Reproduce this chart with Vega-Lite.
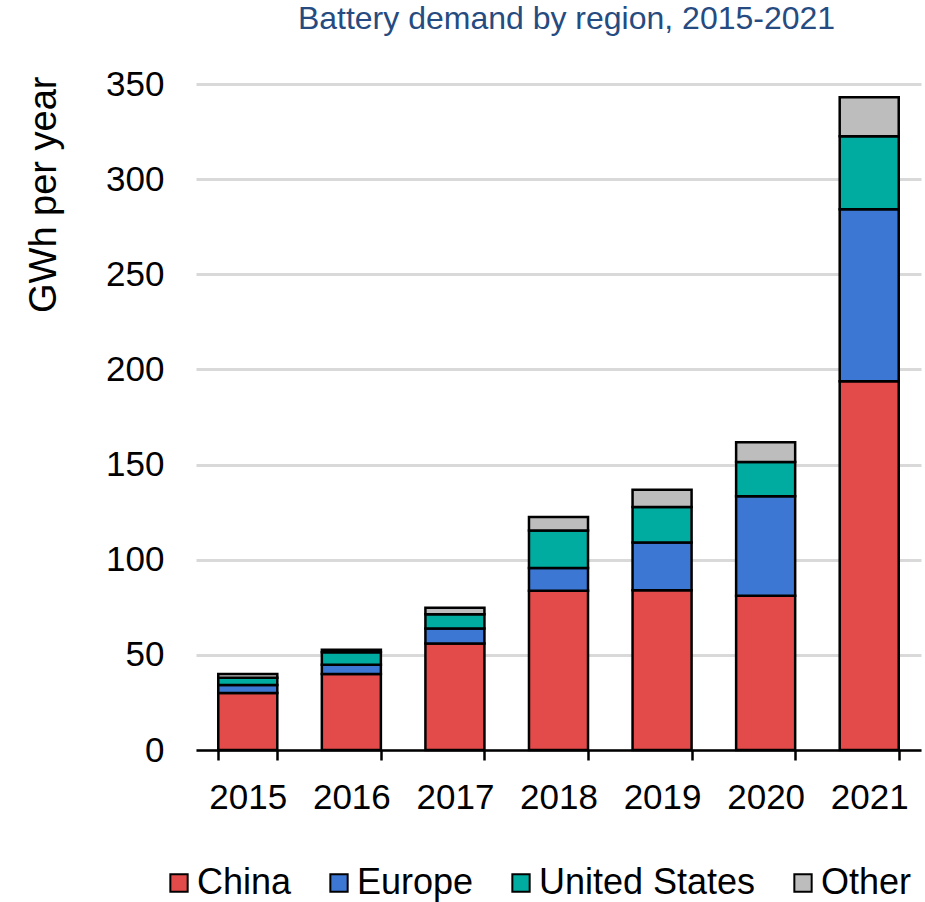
{
  "$schema": "https://vega.github.io/schema/vega-lite/v6.json",
  "autosize": "none",
  "padding": {"left": 196, "top": 84, "right": 4, "bottom": 152},
  "width": 725,
  "height": 666,
  "background": "white",
  "title": {
    "text": "Battery demand by region, 2015-2021",
    "font": "Liberation Sans",
    "fontSize": 32,
    "fontWeight": "normal",
    "color": "#264B80",
    "anchor": "middle",
    "offset": 31,
    "dx": 8
  },
  "data": {
    "values": [
      {"year": "2015", "region": "China", "order": 1, "value": 30},
      {"year": "2015", "region": "Europe", "order": 2, "value": 4.2},
      {"year": "2015", "region": "United States", "order": 3, "value": 3.8},
      {"year": "2015", "region": "Other", "order": 4, "value": 2},
      {"year": "2016", "region": "China", "order": 1, "value": 40},
      {"year": "2016", "region": "Europe", "order": 2, "value": 4.8},
      {"year": "2016", "region": "United States", "order": 3, "value": 6.6},
      {"year": "2016", "region": "Other", "order": 4, "value": 1.3},
      {"year": "2017", "region": "China", "order": 1, "value": 56},
      {"year": "2017", "region": "Europe", "order": 2, "value": 7.8},
      {"year": "2017", "region": "United States", "order": 3, "value": 7.5},
      {"year": "2017", "region": "Other", "order": 4, "value": 3.4},
      {"year": "2018", "region": "China", "order": 1, "value": 83.7},
      {"year": "2018", "region": "Europe", "order": 2, "value": 11.9},
      {"year": "2018", "region": "United States", "order": 3, "value": 19.7},
      {"year": "2018", "region": "Other", "order": 4, "value": 7.2},
      {"year": "2019", "region": "China", "order": 1, "value": 84},
      {"year": "2019", "region": "Europe", "order": 2, "value": 25.1},
      {"year": "2019", "region": "United States", "order": 3, "value": 18.6},
      {"year": "2019", "region": "Other", "order": 4, "value": 9.1},
      {"year": "2020", "region": "China", "order": 1, "value": 81},
      {"year": "2020", "region": "Europe", "order": 2, "value": 52.3},
      {"year": "2020", "region": "United States", "order": 3, "value": 18.1},
      {"year": "2020", "region": "Other", "order": 4, "value": 10.3},
      {"year": "2021", "region": "China", "order": 1, "value": 193.8},
      {"year": "2021", "region": "Europe", "order": 2, "value": 90.4},
      {"year": "2021", "region": "United States", "order": 3, "value": 38.3},
      {"year": "2021", "region": "Other", "order": 4, "value": 20.5}
    ]
  },
  "mark": {"type": "bar", "stroke": "black", "strokeWidth": 2.5},
  "encoding": {
    "x": {
      "field": "year",
      "type": "nominal",
      "scale": {"paddingInner": 0.43, "paddingOuter": 0.215},
      "axis": {
        "title": null,
        "labelAngle": 0,
        "labelFont": "Liberation Sans",
        "labelFontSize": 35,
        "labelColor": "black",
        "labelPadding": 20,
        "domainColor": "black",
        "domainWidth": 2.5,
        "tickColor": "black",
        "tickWidth": 2.5,
        "tickSize": 10,
        "tickBand": "extent",
        "grid": false
      }
    },
    "y": {
      "field": "value",
      "type": "quantitative",
      "stack": "zero",
      "scale": {"domain": [0, 350], "nice": false},
      "axis": {
        "title": "GWh per year",
        "titleFont": "Liberation Sans",
        "titleFontSize": 38,
        "titleFontWeight": "normal",
        "titleColor": "black",
        "titlePadding": 42,
        "titleAnchor": "end",
        "titleY": -8,
        "values": [0, 50, 100, 150, 200, 250, 300, 350],
        "labelFont": "Liberation Sans",
        "labelFontSize": 35,
        "labelColor": "black",
        "labelPadding": 32,
        "ticks": false,
        "tickSize": 0,
        "domain": false,
        "grid": true,
        "gridColor": "#D9D9D9",
        "gridWidth": 2.8
      }
    },
    "color": {
      "field": "region",
      "type": "nominal",
      "sort": ["China", "Europe", "United States", "Other"],
      "scale": {
        "domain": ["China", "Europe", "United States", "Other"],
        "range": ["#E24B4A", "#3C78D3", "#00AB9F", "#BDBDBD"]
      },
      "legend": {
        "title": null,
        "orient": "none",
        "legendX": -35,
        "legendY": 781,
        "direction": "horizontal",
        "symbolType": "square",
        "symbolSize": 300,
        "symbolStrokeColor": "black",
        "symbolStrokeWidth": 2,
        "symbolOpacity": 1,
        "labelFont": "Liberation Sans",
        "labelFontSize": 36,
        "labelColor": "black",
        "labelLimit": 400,
        "labelOffset": 0,
        "columnPadding": 29
      }
    },
    "order": {"field": "order", "type": "quantitative"}
  },
  "config": {
    "view": {"stroke": null}
  }
}
